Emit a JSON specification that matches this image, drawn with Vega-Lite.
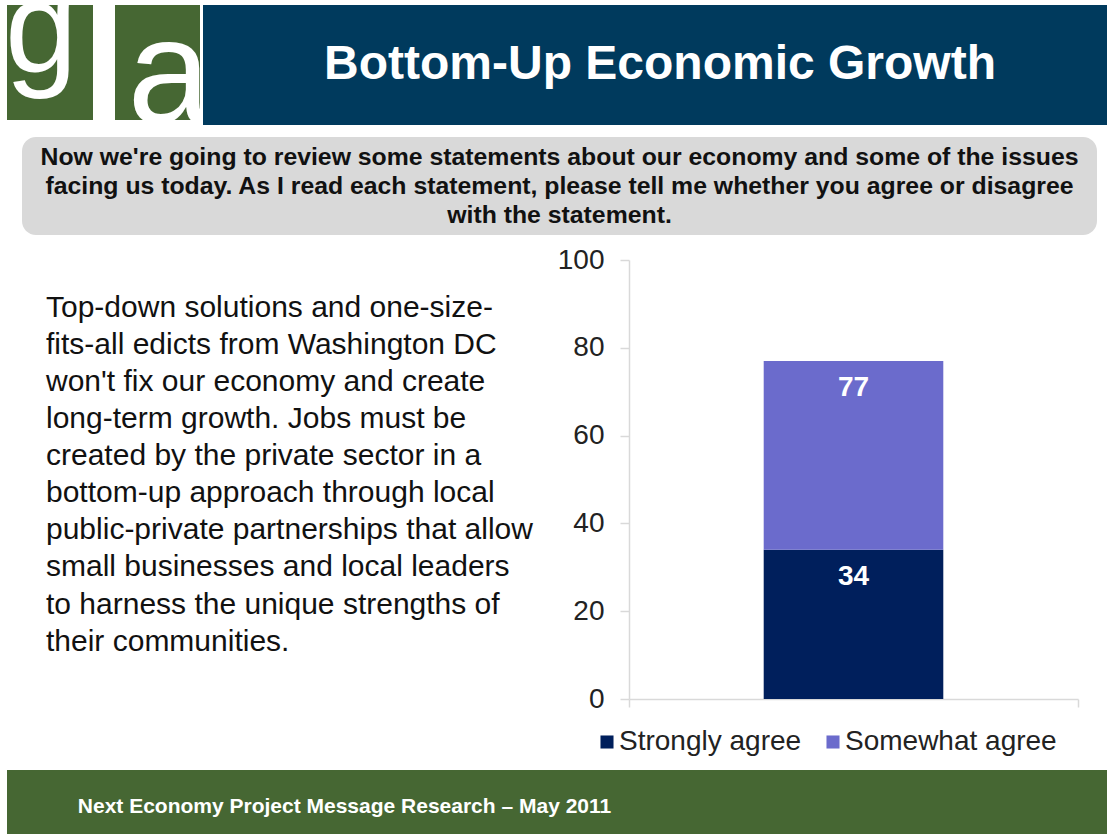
{
  "$schema": "https://vega.github.io/schema/vega-lite/v6.json",
  "padding": {"left": 7, "top": 5, "right": 0, "bottom": 0},
  "background": "white",
  "spacing": 0,
  "config": {
    "view": {"stroke": null},
    "font": "Liberation Sans",
    "concat": {"spacing": 0}
  },
  "vconcat": [
    {
      "bounds": "flush",
      "spacing": 0,
      "hconcat": [
        {
          "width": 86,
          "height": 115,
          "view": {"fill": "#466733", "stroke": null},
          "data": {"values": [{"letter": "g"}]},
          "mark": {"type": "text", "font": "Liberation Sans", "fontSize": 130, "color": "white", "align": "left", "baseline": "alphabetic", "dx": -45, "dy": 9.5, "clip": true},
          "encoding": {"text": {"field": "letter"}}
        },
        {
          "width": 22,
          "height": 132,
          "data": {"values": []},
          "mark": "point"
        },
        {
          "width": 85,
          "height": 115,
          "view": {"fill": "#466733", "stroke": null},
          "data": {"values": [{"letter": "a"}]},
          "mark": {"type": "text", "font": "Liberation Sans", "fontSize": 150, "color": "white", "align": "left", "baseline": "alphabetic", "dx": -30, "dy": 60, "clip": true},
          "encoding": {"text": {"field": "letter"}}
        },
        {
          "width": 3,
          "height": 1,
          "data": {"values": []},
          "mark": "point"
        },
        {
          "width": 904,
          "height": 120,
          "view": {"fill": "#003a5d", "stroke": null},
          "data": {"values": [{"title": "Bottom-Up Economic Growth"}]},
          "mark": {"type": "text", "font": "Liberation Sans", "fontWeight": "bold", "fontSize": 48, "color": "white", "baseline": "middle", "align": "center", "dx": 5},
          "encoding": {"text": {"field": "title"}}
        }
      ]
    },
    {
      "bounds": "flush",
      "spacing": 0,
      "hconcat": [
        {
          "width": 15,
          "height": 109,
          "data": {"values": []},
          "mark": "point"
        },
        {
          "width": 1075,
          "height": 98,
          "view": {"fill": "#d9d9d9", "stroke": null, "cornerRadius": 14},
          "data": {"values": [
            {"line": 1, "text": "Now we're going to review some statements about our economy and some of the issues"},
            {"line": 2, "text": "facing us today. As I read each statement, please tell me whether you agree or disagree"},
            {"line": 3, "text": "with the statement."}
          ]},
          "mark": {"type": "text", "font": "Liberation Sans", "fontWeight": "bold", "fontSize": 24.8, "color": "#111111", "baseline": "alphabetic", "align": "center", "dy": 8},
          "encoding": {
            "y": {"field": "line", "type": "ordinal", "axis": null, "scale": {"type": "point", "padding": 0.7}},
            "text": {"field": "text"}
          }
        }
      ]
    },
    {
      "bounds": "flush",
      "spacing": 0,
      "hconcat": [
        {
          "width": 39,
          "height": 510,
          "data": {"values": []},
          "mark": "point"
        },
        {
          "width": 583,
          "height": 453,
          "data": {"values": [
            {"line": 1, "text": "Top-down solutions and one-size-"},
            {"line": 2, "text": "fits-all edicts from Washington DC"},
            {"line": 3, "text": "won't fix our economy and create"},
            {"line": 4, "text": "long-term growth. Jobs must be"},
            {"line": 5, "text": "created by the private sector in a"},
            {"line": 6, "text": "bottom-up approach through local"},
            {"line": 7, "text": "public-private partnerships that allow"},
            {"line": 8, "text": "small businesses and local leaders"},
            {"line": 9, "text": "to harness the unique strengths of"},
            {"line": 10, "text": "their communities."}
          ]},
          "mark": {"type": "text", "font": "Liberation Sans", "fontSize": 30, "color": "#111111", "align": "left", "baseline": "alphabetic"},
          "encoding": {
            "x": {"datum": 0, "type": "quantitative", "scale": {"domain": [0, 1]}, "axis": null},
            "y": {"field": "line", "type": "quantitative", "axis": null, "scale": {"domain": [-0.53, 11.68], "reverse": true, "zero": false, "nice": false}},
            "text": {"field": "text"}
          }
        },
        {
          "width": 449,
          "height": 439,
          "data": {"values": [
            {"group": "All", "response": "Strongly agree", "value": 34, "label": 34, "order": 1},
            {"group": "All", "response": "Somewhat agree", "value": 43, "label": 77, "order": 2}
          ]},
          "encoding": {
            "x": {
              "field": "group",
              "type": "nominal",
              "scale": {"paddingInner": 0, "paddingOuter": 0},
              "axis": {"labels": false, "title": null, "domainColor": "#d9d9d9", "domainWidth": 1.5, "tickColor": "#d9d9d9", "tickWidth": 1.5, "tickBand": "extent", "tickSize": 8}
            },
            "y": {
              "field": "value",
              "type": "quantitative",
              "stack": "zero",
              "scale": {"domain": [0, 100], "nice": false},
              "axis": {"values": [0, 20, 40, 60, 80, 100], "title": null, "grid": false, "domainColor": "#d9d9d9", "domainWidth": 1.5, "tickColor": "#d9d9d9", "tickWidth": 1.5, "tickSize": 9, "labelFontSize": 28, "labelFont": "Liberation Sans", "labelColor": "#222222", "labelPadding": 16}
            },
            "order": {"field": "order", "type": "quantitative"}
          },
          "layer": [
            {
              "mark": {"type": "bar", "width": {"band": 0.4}},
              "encoding": {
                "color": {
                  "field": "response",
                  "type": "nominal",
                  "scale": {"domain": ["Strongly agree", "Somewhat agree"], "range": ["#001f5c", "#6b6bcc"]},
                  "legend": {"orient": "none", "legendX": 586, "legendY": 723, "direction": "horizontal", "title": null, "symbolType": "square", "symbolSize": 170, "symbolStrokeWidth": 0, "labelFontSize": 28, "labelFont": "Liberation Sans", "labelColor": "#222222", "labelLimit": 400, "columnPadding": 17, "labelOffset": -2}
                }
              }
            },
            {
              "mark": {"type": "text", "font": "Liberation Sans", "fontWeight": "bold", "fontSize": 28, "color": "white", "baseline": "top", "dy": 13},
              "encoding": {
                "text": {"field": "label", "type": "quantitative"},
                "detail": {"field": "response"}
              }
            }
          ]
        }
      ]
    },
    {
      "bounds": "flush",
      "spacing": 0,
      "hconcat": [
        {
          "width": 675,
          "height": 64,
          "view": {"fill": "#466733", "stroke": null},
          "data": {"values": [{"text": "Next Economy Project Message Research – May 2011"}]},
          "mark": {"type": "text", "font": "Liberation Sans", "fontWeight": "bold", "fontSize": 21, "color": "white", "baseline": "middle", "align": "center", "dy": 5},
          "encoding": {"text": {"field": "text"}}
        },
        {
          "width": 425,
          "height": 64,
          "view": {"fill": "#466733", "stroke": null},
          "data": {"values": []},
          "mark": "point"
        }
      ]
    }
  ]
}
